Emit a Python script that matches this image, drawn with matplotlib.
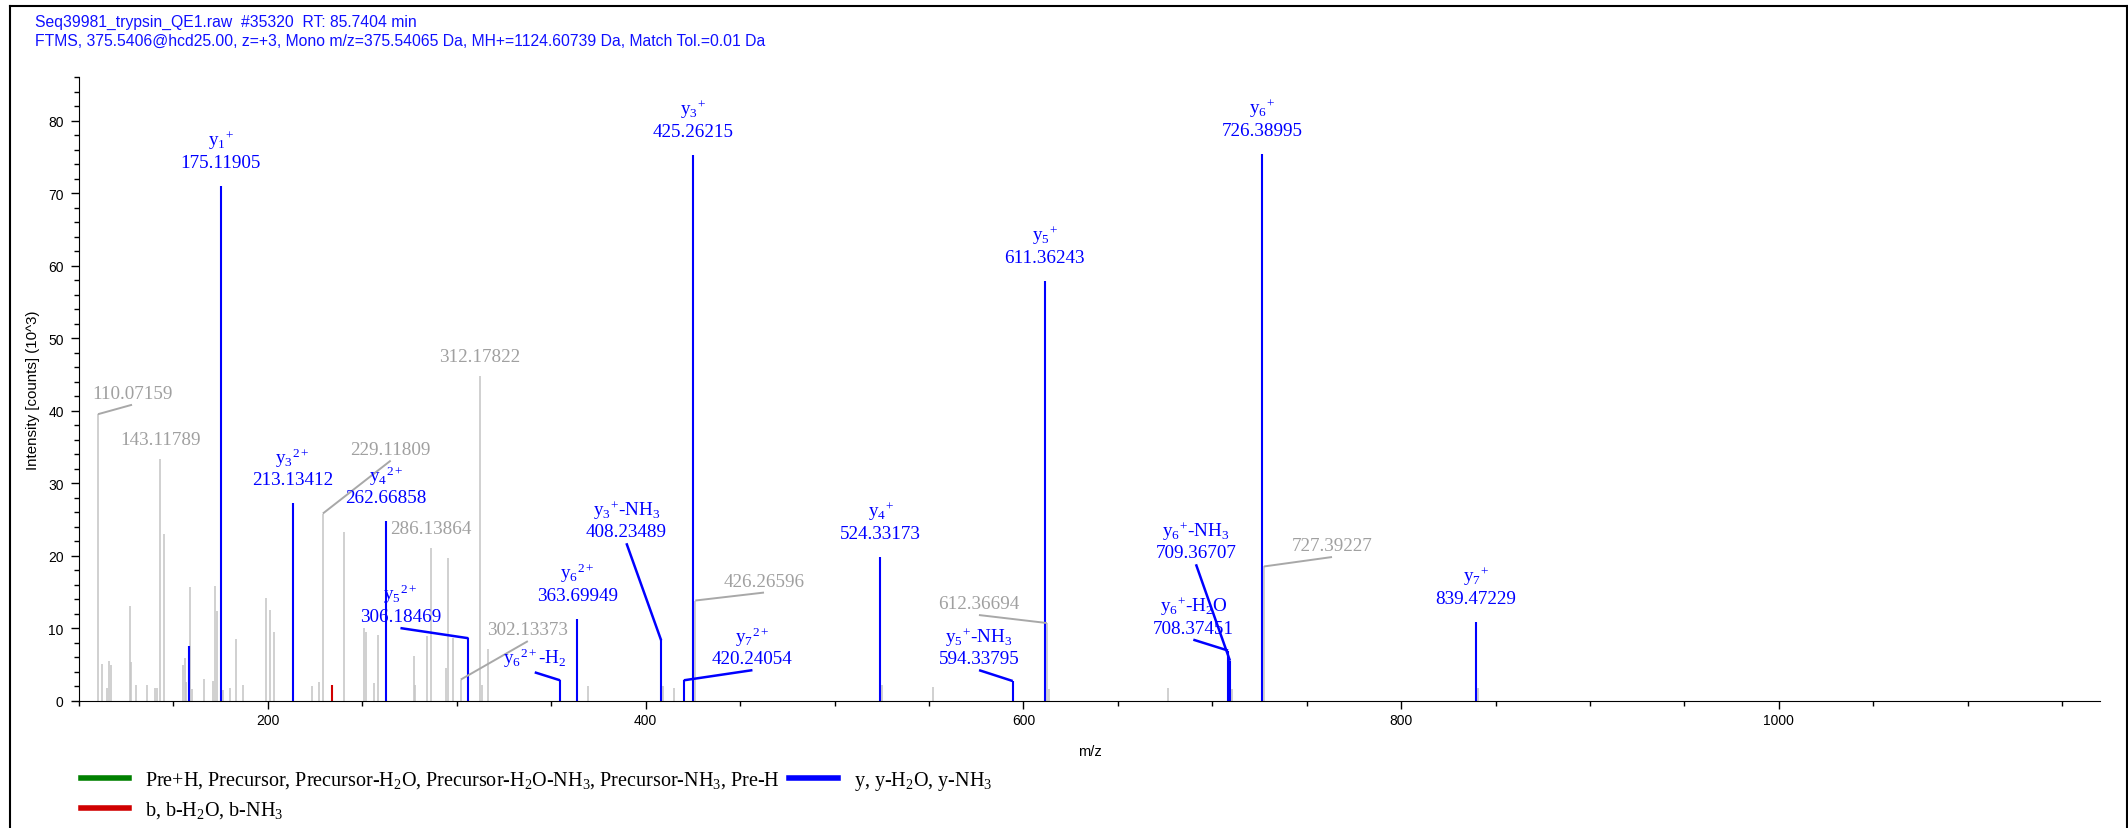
import matplotlib
matplotlib.use("Agg")
import matplotlib.pyplot as plt
from matplotlib.lines import Line2D
from matplotlib.ticker import MultipleLocator

# ---- spectrum: m/z and intensity (10^3 counts) ----
# unassigned peaks (grey)
other_mz = [110.07159, 112.2, 115.0, 115.9, 116.9, 127.0, 127.7, 130.0, 136.2, 140.3,
            141.2, 143.11789, 145.0, 155.1, 156.0, 156.9, 159.0, 159.9, 166.1, 171.0,
            171.9, 173.0, 176.1, 180.0, 183.2, 186.9, 199.1, 201.1, 203.2, 223.1,
            227.2, 229.11809, 240.3, 251.1, 252.0, 256.2, 258.1, 277.2, 278.1, 284.3,
            286.13864, 294.4, 295.2, 298.2, 302.13373, 312.17822, 313.1, 316.3, 369.3, 409.1,
            415.2, 426.26596, 525.2, 552.3, 612.36694, 613.6, 676.7, 710.4, 727.39227, 840.6]
other_int = [39.5, 5.1, 1.8, 5.4, 4.9, 13.0, 5.3, 2.2, 2.2, 1.7,
             1.7, 33.3, 23.0, 4.9, 5.9, 2.6, 15.7, 1.6, 3.0, 2.7,
             15.8, 12.3, 1.5, 1.7, 8.5, 2.2, 14.1, 12.5, 9.4, 2.0,
             2.5, 25.8, 23.2, 10.0, 9.4, 2.4, 9.1, 6.2, 2.2, 8.9,
             21.0, 4.5, 19.6, 8.7, 2.9, 44.7, 2.2, 7.1, 2.0, 2.0,
             1.8, 13.8, 2.1, 1.9, 10.7, 1.6, 1.7, 1.6, 18.5, 1.7]

# y ions (blue)
y_mz = [158.1, 175.11905, 213.13412, 262.66858, 306.18469, 354.69400, 363.69949, 408.23489,
        420.24054, 425.26215, 524.33173, 594.33795, 611.36243, 708.37451, 709.36707,
        726.38995, 839.47229]
y_int = [7.5, 71.0, 27.2, 24.7, 8.6, 2.8, 11.3, 8.3,
         2.8, 75.3, 19.8, 2.7, 57.9, 6.9, 5.5,
         75.4, 10.9]
y_names = [None, r"y$_1$$^{+}$", r"y$_3$$^{2+}$", r"y$_4$$^{2+}$", r"y$_5$$^{2+}$",
           r"y$_6$$^{2+}$-H$_2$", r"y$_6$$^{2+}$", r"y$_3$$^{+}$-NH$_3$", r"y$_7$$^{2+}$",
           r"y$_3$$^{+}$", r"y$_4$$^{+}$", r"y$_5$$^{+}$-NH$_3$", r"y$_5$$^{+}$",
           r"y$_6$$^{+}$-H$_2$O", r"y$_6$$^{+}$-NH$_3$", r"y$_6$$^{+}$", r"y$_7$$^{+}$"]
y_show_mz = [False, True, True, True, True, False, True, True,
             True, True, True, True, True, True, True, True, True]

# b ions (red)
b_mz = [234.1]
b_int = [2.1]

# grey peaks that carry an m/z label
other_labeled = [110.07159, 143.11789, 229.11809, 286.13864, 302.13373, 312.17822,
                 426.26596, 612.36694, 727.39227]

# label placement: leader end offset from peak top (d m/z, d intensity); others sit on top
leader = {110.07159: (18.0, 1.3), 229.11809: (35.9, 7.3), 302.13373: (35.5, 5.3),
          426.26596: (36.4, 1.1), 612.36694: (-35.9, 1.1), 727.39227: (36.0, 1.3),
          306.18469: (-36.0, 1.4), 354.69400: (-13.4, 1.1), 408.23489: (-18.4, 13.4),
          420.24054: (36.3, 1.4), 594.33795: (-17.8, 1.5), 708.37451: (-18.4, 1.5),
          709.36707: (-18.0, 13.3)}

title1 = "Seq39981_trypsin_QE1.raw  #35320  RT: 85.7404 min"
title2 = ("FTMS, 375.5406@hcd25.00, z=+3, Mono m/z=375.54065 Da, MH+=1124.60739 Da, "
          "Match Tol.=0.01 Da")

plt.rcParams["font.family"] = "Liberation Sans"
plt.rcParams["mathtext.fontset"] = "custom"
plt.rcParams["mathtext.rm"] = "Liberation Serif"
plt.rcParams["mathtext.it"] = "Liberation Serif:italic"
plt.rcParams["mathtext.bf"] = "Liberation Serif:bold"

BLUE = "#0000ff"
GREY_LINE = "#c4c4c4"
GREY_TEXT = "#a0a0a0"
LABEL_FS = 13.8

W, H, DPI = 2128, 829, 100
fig = plt.figure(figsize=(W / DPI, H / DPI), dpi=DPI)
ax = fig.add_axes([79 / W, 1 - 701.6 / H, (2100 - 79) / W, (701.6 - 78) / H])

ax.vlines(other_mz, 0, other_int, color=GREY_LINE, lw=1.1)
ax.vlines(b_mz, 0, b_int, color="#d00000", lw=1.5)
ax.vlines(y_mz, 0, y_int, color=BLUE, lw=1.5)

ax.set_xlim(100, 1170)
ax.set_ylim(0, 86)
ax.xaxis.set_major_locator(MultipleLocator(200))
ax.xaxis.set_minor_locator(MultipleLocator(50))
ax.yaxis.set_major_locator(MultipleLocator(10))
ax.yaxis.set_minor_locator(MultipleLocator(2))
ax.tick_params(which="major", length=6, width=1, labelsize=10)
ax.tick_params(axis="x", which="major", pad=3)
ax.tick_params(axis="y", which="major", pad=5)
ax.tick_params(which="minor", length=3.5, width=1)
for s in ["top", "right"]:
    ax.spines[s].set_visible(False)
ax.set_xlabel("m/z", fontsize=10.5, labelpad=12)
ax.set_ylabel("Intensity [counts] (10^3)", fontsize=10.8, labelpad=6)


def put_label(mz, h, text, color, lead_color, lead_w, lift):
    if mz in leader:
        dx, dy = leader[mz]
        ax.plot([mz, mz + dx], [h, h + dy], color=lead_color, lw=lead_w,
                solid_capstyle="butt")
        ax.annotate(text, (mz + dx, h + dy), xytext=(0, 3), textcoords="offset pixels",
                    ha="center", va="bottom", color=color, fontsize=LABEL_FS,
                    family="Liberation Serif", linespacing=1.2)
    else:
        ax.annotate(text, (mz, h), xytext=(0, lift), textcoords="offset pixels",
                    ha="center", va="bottom", color=color, fontsize=LABEL_FS,
                    family="Liberation Serif", linespacing=1.2)


for mz in other_labeled:
    h = other_int[other_mz.index(mz)]
    put_label(mz, h, f"{mz:.5f}", GREY_TEXT, "#a8a8a8", 1.4, 11)

for mz, h, name, show in zip(y_mz, y_int, y_names, y_show_mz):
    if name is None:
        continue
    text = f"{name}\n{mz:.5f}" if show else name
    put_label(mz, h, text, BLUE, BLUE, 1.8, 15)

# header text
fig.text(35 / W, 1 - 27 / H, title1, color="#1010ff", fontsize=11.3, va="baseline")
fig.text(35 / W, 1 - 46 / H, title2, color="#1010ff", fontsize=11.3, va="baseline")

# legend
handles = [Line2D([], [], color="#008000", lw=4),
           Line2D([], [], color="#d00000", lw=4),
           Line2D([], [], color=BLUE, lw=4)]
labels = ["Pre+H, Precursor, Precursor-H$_2$O, Precursor-H$_2$O-NH$_3$, Precursor-NH$_3$, Pre-H",
          "b, b-H$_2$O, b-NH$_3$",
          "y, y-H$_2$O, y-NH$_3$"]
fig.legend(handles, labels, ncol=2, loc="upper left", bbox_to_anchor=(81 / W, 1 - 770 / H),
           frameon=False, prop={"family": "Liberation Serif", "size": 14.5},
           handlelength=2.4, handletextpad=0.8, columnspacing=0.45, labelspacing=0.45,
           borderpad=0, borderaxespad=0)

# outer frame
for xs, ys in [([10, 10], [7, 829]), ([10, 2126.5], [7, 7]), ([2126.5, 2126.5], [7, 829])]:
    fig.add_artist(Line2D([x / W for x in xs], [1 - y / H for y in ys],
                          transform=fig.transFigure, color="black", lw=1.5))

fig.savefig("out.png", dpi=DPI)
